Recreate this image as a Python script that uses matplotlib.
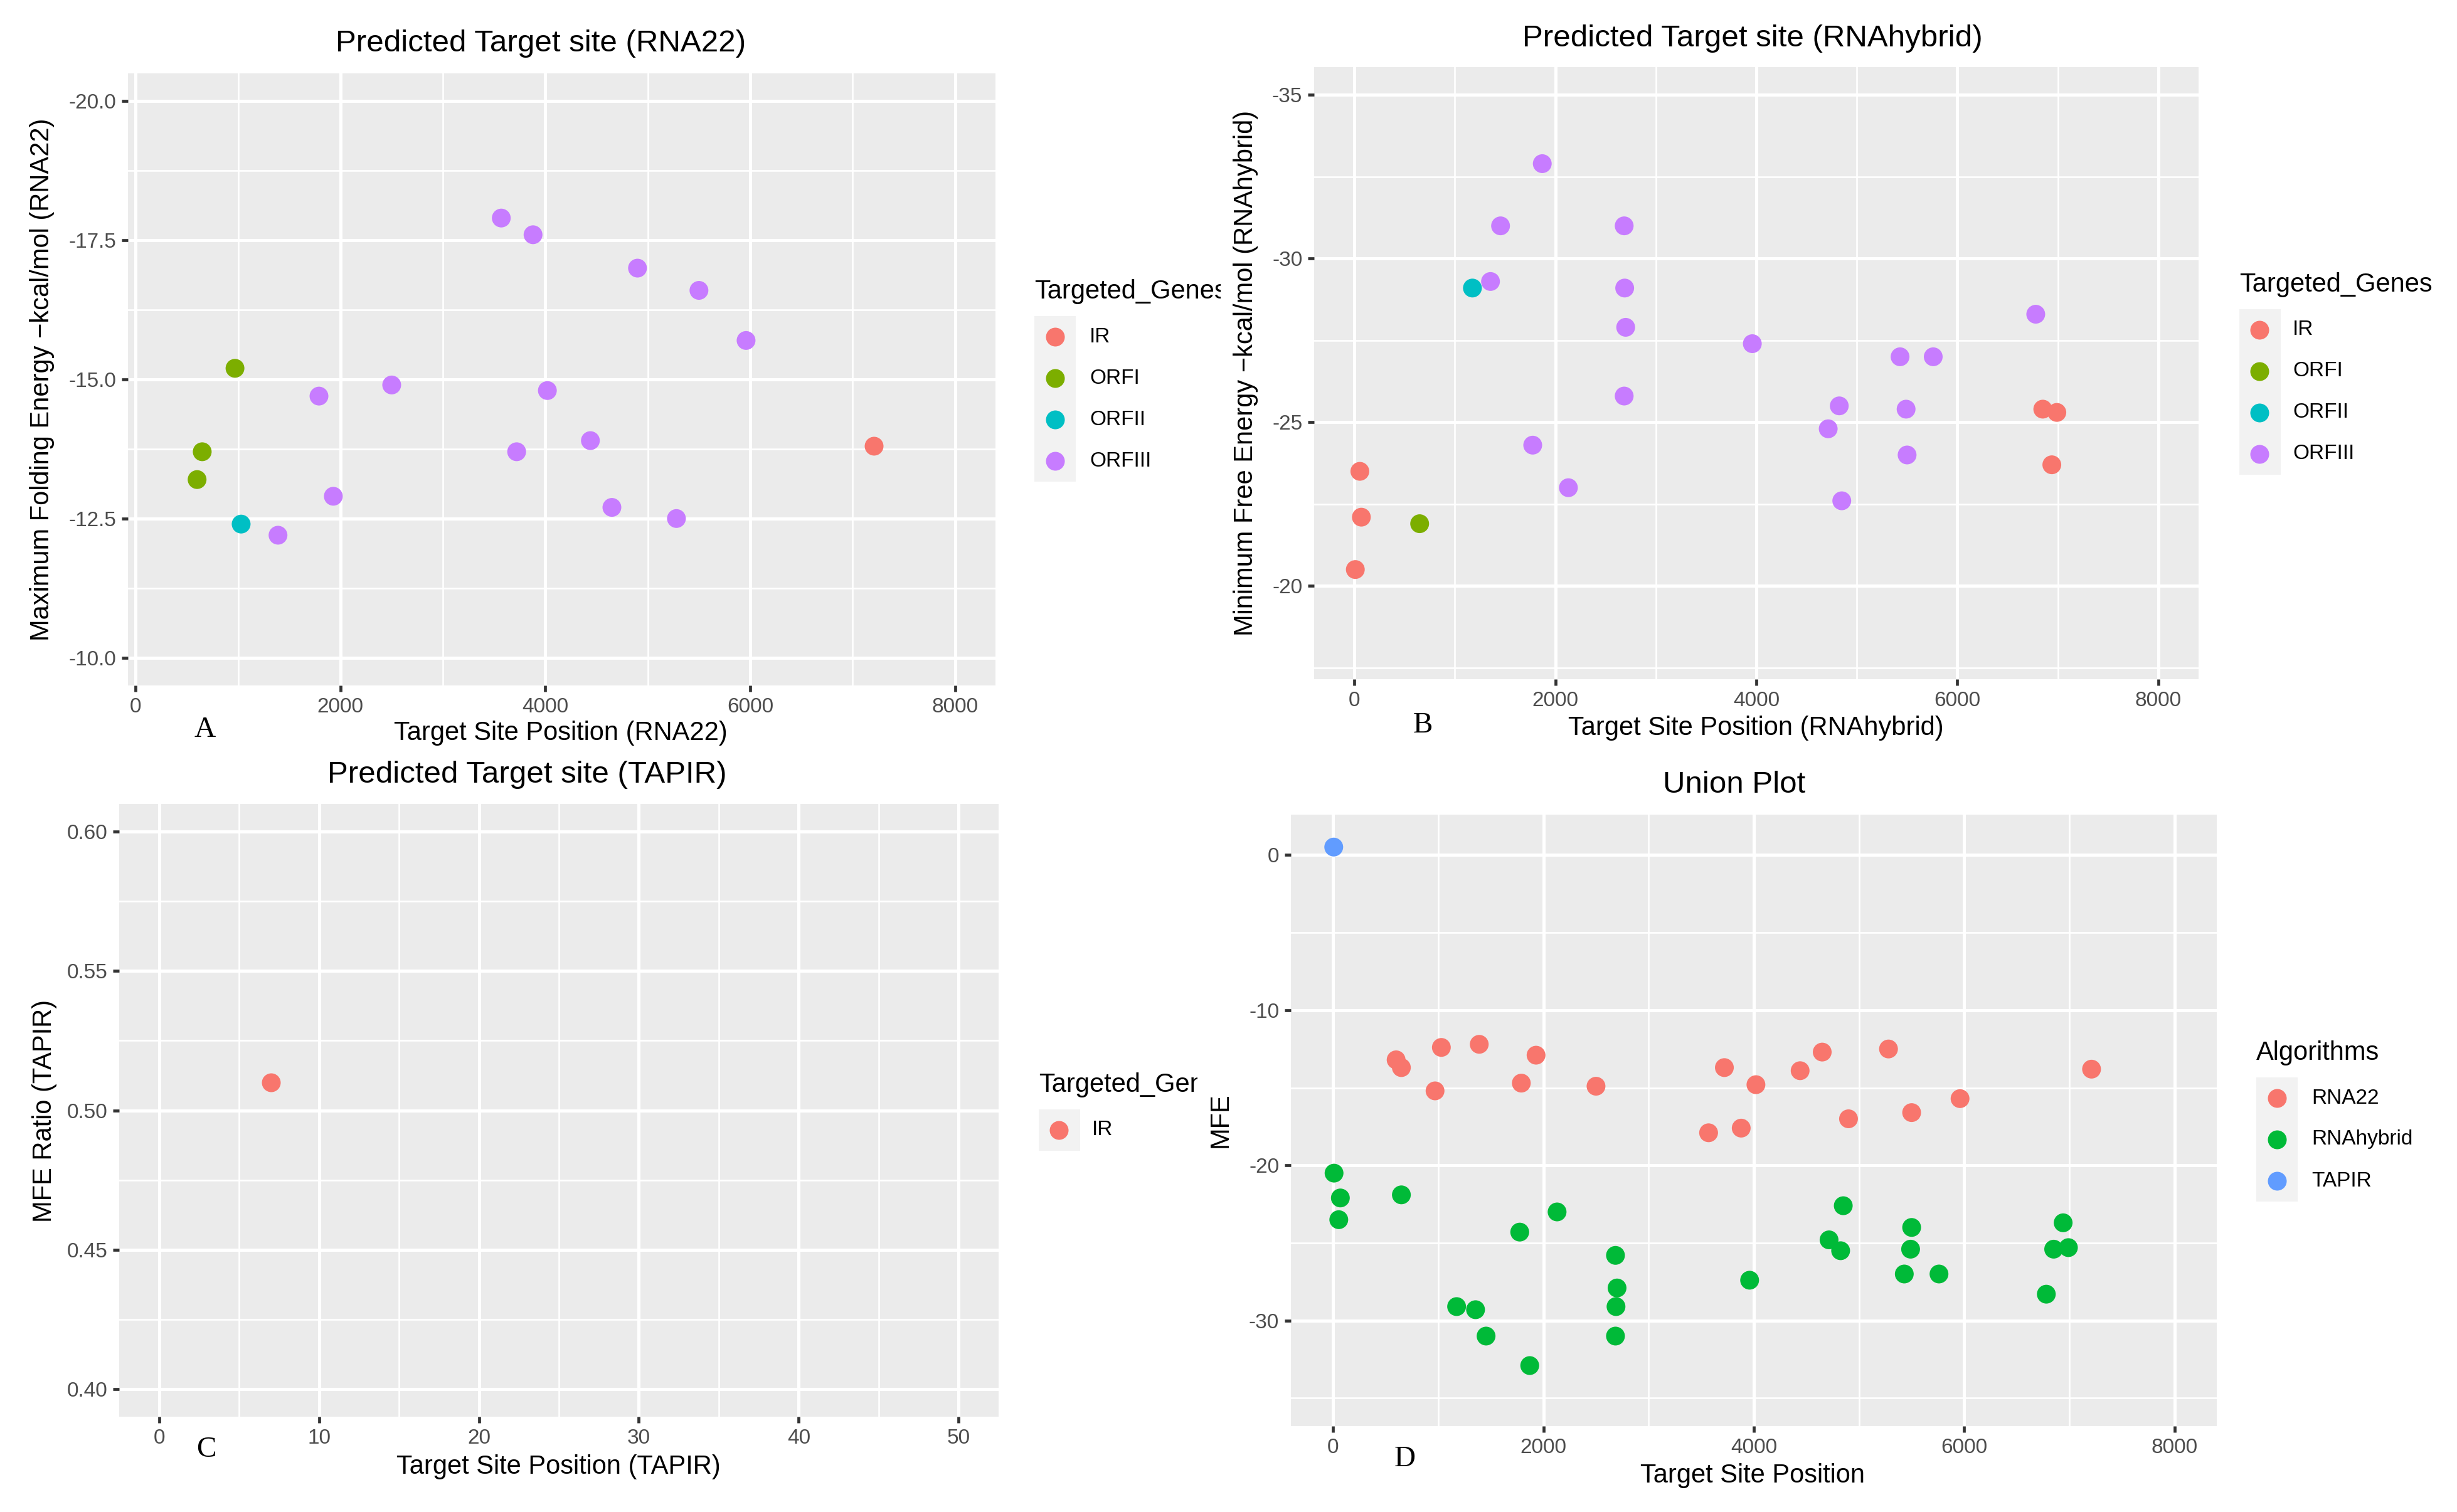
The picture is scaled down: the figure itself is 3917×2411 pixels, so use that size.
import matplotlib
matplotlib.use("Agg")
import matplotlib.pyplot as plt
from matplotlib.ticker import MultipleLocator, FormatStrFormatter
from matplotlib.patches import Rectangle
from matplotlib.lines import Line2D
from matplotlib.transforms import Bbox
import numpy as np

plt.rcParams['font.family'] = ['Liberation Sans', 'DejaVu Sans']
plt.rcParams['axes.unicode_minus'] = False

# ---- data ----
# RNA22 predicted target sites
rna22_genes = ['ORFI', 'ORFI', 'ORFII', 'ORFI', 'ORFIII', 'ORFIII', 'ORFIII', 'ORFIII',
               'ORFIII', 'ORFIII', 'ORFIII', 'ORFIII', 'ORFIII', 'ORFIII', 'ORFIII',
               'ORFIII', 'ORFIII', 'ORFIII', 'IR']
rna22_pos = [600, 650, 1030, 970, 1390, 1930, 1790, 2500, 3570, 3720, 3880, 4020,
             4440, 4650, 4900, 5280, 5500, 5960, 7210]
rna22_mfe = [-13.2, -13.7, -12.4, -15.2, -12.2, -12.9, -14.7, -14.9, -17.9, -13.7, -17.6,
             -14.8, -13.9, -12.7, -17.0, -12.5, -16.6, -15.7, -13.8]

# RNAhybrid predicted target sites
hyb_genes = ['IR', 'IR', 'IR', 'ORFI', 'ORFII', 'ORFIII', 'ORFIII', 'ORFIII', 'ORFIII',
             'ORFIII', 'ORFIII', 'ORFIII', 'ORFIII', 'ORFIII', 'ORFIII', 'ORFIII', 'ORFIII',
             'ORFIII', 'ORFIII', 'ORFIII', 'ORFIII', 'ORFIII', 'ORFIII', 'IR', 'IR', 'IR']
hyb_pos = [10, 70, 55, 650, 1175, 1355, 1455, 1775, 1870, 2130, 2685, 2690, 2700, 2685,
           3960, 4715, 4825, 4850, 5430, 5490, 5500, 5760, 6780, 6850, 6990, 6940]
hyb_mfe = [-20.5, -22.1, -23.5, -21.9, -29.1, -29.3, -31.0, -24.3, -32.9, -23.0, -31.0,
           -29.1, -27.9, -25.8, -27.4, -24.8, -25.5, -22.6, -27.0, -25.4, -24.0, -27.0,
           -28.3, -25.4, -25.3, -23.7]

# TAPIR predicted target site
tapir_genes = ['IR']
tapir_pos = [7]
tapir_ratio = [0.51]

gene_levels = ['IR', 'ORFI', 'ORFII', 'ORFIII']
gene_colors = ['#F8766D', '#7CAE00', '#00BFC4', '#C77CFF']
algo_levels = ['RNA22', 'RNAhybrid', 'TAPIR']
algo_colors = ['#F8766D', '#00BA38', '#619CFF']

# union of all three predictions
union_pos = rna22_pos + hyb_pos + tapir_pos
union_mfe = rna22_mfe + hyb_mfe + tapir_ratio
union_algo = ['RNA22'] * len(rna22_pos) + ['RNAhybrid'] * len(hyb_pos) + ['TAPIR'] * len(tapir_pos)

# ---- layout (pixels of the 3917x2411 canvas) ----
W, H = 3917, 2411
DPI = 100
fig = plt.figure(figsize=(W / DPI, H / DPI), dpi=DPI)

PT = 1.389  # px per pt
TITLE_SIZE = 35.5
LAB_SIZE = 30
TICK_SIZE = 24
DOT = 466


def fx(x):
    return x / W


def fy(y):
    return 1 - y / H


def px_axes(left, top, right, bottom):
    return fig.add_axes([fx(left), fy(bottom), (right - left) / W, (bottom - top) / H])


def gg_style(ax, xmaj, xmin, ymaj, ymin, yfmt):
    ax.set_facecolor('#EBEBEB')
    for s in ax.spines.values():
        s.set_visible(False)
    ax.xaxis.set_major_locator(MultipleLocator(xmaj))
    ax.xaxis.set_minor_locator(MultipleLocator(xmin))
    ax.yaxis.set_major_locator(MultipleLocator(ymaj))
    ax.yaxis.set_minor_locator(MultipleLocator(ymin))
    ax.yaxis.set_major_formatter(FormatStrFormatter(yfmt))
    ax.xaxis.set_major_formatter(FormatStrFormatter('%d'))
    ax.grid(which='minor', color='white', linewidth=1.9, zorder=0)
    ax.grid(which='major', color='white', linewidth=3.6, zorder=0)
    ax.set_axisbelow(True)
    ax.tick_params(which='major', length=7.5, width=3.4, color='#333333',
                   labelcolor='#4D4D4D', labelsize=TICK_SIZE, pad=6)
    ax.tick_params(which='minor', length=0)


def scatter_groups(ax, xs, ys, groups, levels, colors):
    xs = np.array(xs)
    ys = np.array(ys)
    groups = np.array(groups)
    cmap = dict(zip(levels, colors))
    ax.scatter(xs, ys, c=[cmap[g] for g in groups], s=DOT, linewidths=0, zorder=3)


def draw_legend(title, labels, colors, left, key_cx, first_y, label_left, clip_right=None):
    n = len(labels)
    rect = Rectangle((fx(left), fy(first_y - 33 + 66 * n)), 66 / W, 66 * n / H,
                     transform=fig.transFigure, facecolor='#F2F2F2', edgecolor='none')
    fig.add_artist(rect)
    for i, (lab, col) in enumerate(zip(labels, colors)):
        y = first_y + 66 * i
        fig.add_artist(Line2D([fx(key_cx)], [fy(y)], marker='o', markersize=21.6,
                              markerfacecolor=col, markeredgewidth=0, linestyle='none',
                              transform=fig.transFigure))
        fig.text(fx(label_left), fy(y), lab, fontsize=TICK_SIZE, va='center', ha='left')
    t = fig.text(fx(left), fy(first_y - 72), title, fontsize=LAB_SIZE, va='center', ha='left')
    if clip_right is not None:
        t.set_clip_box(Bbox([[0, 0], [clip_right, H]]))
        t.set_clip_on(True)


def panel_letter(x, y, s):
    fig.text(fx(x), fy(y), s, fontsize=34, family='Liberation Serif', ha='center', va='center')


# ---- A: RNA22 ----
axA = px_axes(204, 117, 1587, 1093)
gg_style(axA, 2000, 1000, 2.5, 1.25, '%.1f')
scatter_groups(axA, rna22_pos, rna22_mfe, rna22_genes, gene_levels, gene_colors)
axA.set_xlim(-75, 8395)
axA.set_ylim(-9.5, -20.5)
fig.text(fx(862), fy(70), 'Predicted Target site (RNA22)', fontsize=TITLE_SIZE, ha='center', va='center')
fig.text(fx(894), fy(1169), 'Target Site Position (RNA22)', fontsize=LAB_SIZE, ha='center', va='center')
fig.text(fx(67), fy(605), 'Maximum Folding Energy \u2212kcal/mol (RNA22)', fontsize=LAB_SIZE,
         rotation=90, ha='center', va='center')
draw_legend('Targeted_Genes', gene_levels, gene_colors, 1649, 1682, 537, 1737, clip_right=1946)
panel_letter(327, 1164, 'A')

# ---- B: RNAhybrid ----
axB = px_axes(2095, 107, 3505, 1083)
gg_style(axB, 2000, 1000, 5, 2.5, '%d')
scatter_groups(axB, hyb_pos, hyb_mfe, hyb_genes, gene_levels, gene_colors)
axB.set_xlim(-400, 8400)
axB.set_ylim(-17.15, -35.85)
fig.text(fx(2794), fy(61), 'Predicted Target site (RNAhybrid)', fontsize=TITLE_SIZE, ha='center', va='center')
fig.text(fx(2799), fy(1161), 'Target Site Position (RNAhybrid)', fontsize=LAB_SIZE, ha='center', va='center')
fig.text(fx(1986), fy(595), 'Minimum Free Energy \u2212kcal/mol (RNAhybrid)', fontsize=LAB_SIZE,
         rotation=90, ha='center', va='center')
draw_legend('Targeted_Genes', gene_levels, gene_colors, 3570, 3602, 526, 3655)
panel_letter(2268, 1157, 'B')

# ---- C: TAPIR ----
axC = px_axes(190, 1282, 1592, 2259)
gg_style(axC, 10, 5, 0.05, 0.025, '%.2f')
scatter_groups(axC, tapir_pos, tapir_ratio, tapir_genes, gene_levels, gene_colors)
axC.set_xlim(-2.5, 52.5)
axC.set_ylim(0.39, 0.61)
fig.text(fx(840), fy(1236), 'Predicted Target site (TAPIR)', fontsize=TITLE_SIZE, ha='center', va='center')
fig.text(fx(890), fy(2339), 'Target Site Position (TAPIR)', fontsize=LAB_SIZE, ha='center', va='center')
fig.text(fx(71), fy(1771), 'MFE Ratio (TAPIR)', fontsize=LAB_SIZE, rotation=90, ha='center', va='center')
draw_legend('Targeted_Genes', ['IR'], ['#F8766D'], 1656, 1688, 1802, 1741, clip_right=1909)
panel_letter(329, 2312, 'C')

# ---- D: union ----
axD = px_axes(2058, 1299, 3534, 2274)
gg_style(axD, 2000, 1000, 10, 5, '%d')
scatter_groups(axD, union_pos, union_mfe, union_algo, algo_levels, algo_colors)
axD.set_xlim(-400, 8400)
axD.set_ylim(-36.8, 2.6)
fig.text(fx(2765), fy(1252), 'Union Plot', fontsize=TITLE_SIZE, ha='center', va='center')
fig.text(fx(2794), fy(2353), 'Target Site Position', fontsize=LAB_SIZE, ha='center', va='center')
fig.text(fx(1946), fy(1786), 'MFE', fontsize=LAB_SIZE, rotation=90, ha='center', va='center')
draw_legend('Algorithms', algo_levels, algo_colors, 3597, 3630, 1751, 3685)
panel_letter(2240, 2327, 'D')

fig.savefig('out.png', dpi=DPI, facecolor='white')
